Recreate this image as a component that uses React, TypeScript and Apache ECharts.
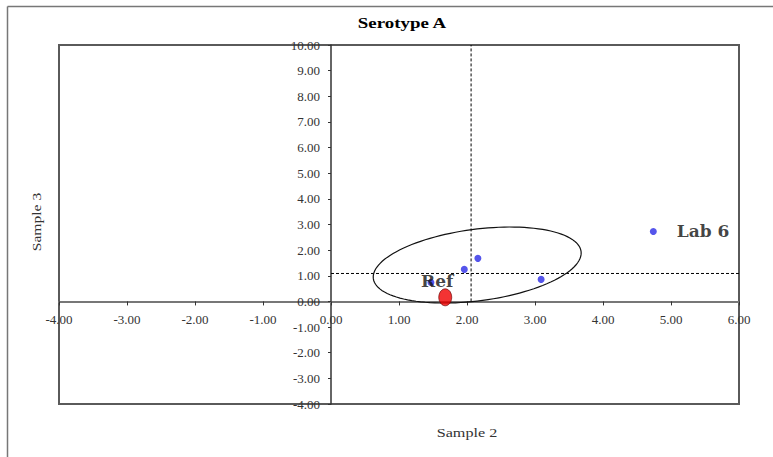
import React, { useEffect, useRef } from "react";
import * as echarts from "echarts";

const labX: number[] = [1.47, 1.96, 2.16, 3.09, 4.74];
const labY: number[] = [0.74, 1.25, 1.68, 0.86, 2.73];
const labNames: string[] = ["", "", "", "", "Lab 6"];
const refPoint: number[] = [1.68, 0.16];
const refName = "Ref";
const meanX = 2.06;
const meanY = 1.09;
// ellipse: center x, center y, conjugate vector A (x,y), conjugate vector B (x,y) in data units
const ellipseParams: number[] = [2.15, 1.42, 1.529, 0.468, 0, -1.406];
const xMin = -4, xMax = 6, yMin = -4, yMax = 10;
const titleText = "Serotype A";
const xName = "Sample 2";
const yName = "Sample 3";

const SERIF = "'Liberation Serif', 'Times New Roman', serif";
const LABEL_SERIF = "'DejaVu Serif', serif";

const W = 773, H = 457;
const GRID = { left: 59, right: 34, top: 45, bottom: 53 };

export default function App() {
  const ref = useRef<HTMLDivElement>(null);
  useEffect(() => {
    if (!ref.current) return;
    const chart = echarts.init(ref.current, null, { renderer: "svg" });
    const gridW = W - GRID.left - GRID.right;
    const gridH = H - GRID.top - GRID.bottom;
    // move axes (line + labels) to cross at zero
    const xOffset = -gridH * (0 - yMin) / (yMax - yMin);
    const yOffset = -gridW * (0 - xMin) / (xMax - xMin);
    const axisLabel = {
      fontFamily: SERIF,
      fontSize: 13,
      color: "#333",
      formatter: (v: number) => v.toFixed(2),
    };
    chart.setOption({
      animation: false,
      backgroundColor: "#fff",
      graphic: [
        {
          type: "line",
          shape: { x1: 7.5, y1: 6.5, x2: W, y2: 6.5 },
          style: { stroke: "#777", lineWidth: 1.5 },
          silent: true,
        },
        {
          type: "line",
          shape: { x1: 7.5, y1: 6.5, x2: 7.5, y2: H },
          style: { stroke: "#777", lineWidth: 1.5 },
          silent: true,
        },
        {
          type: "text",
          x: 402,
          y: 23,
          scaleX: 1.35,
          style: {
            text: titleText,
            fontFamily: SERIF,
            fontSize: 14,
            fontWeight: "bold",
            fill: "#000",
            align: "center",
            verticalAlign: "middle",
          },
        },
        {
          type: "text",
          x: 37,
          y: 222,
          rotation: Math.PI / 2,
          scaleX: 1.3,
          style: {
            text: yName,
            fontFamily: SERIF,
            fontSize: 12,
            fill: "#333",
            align: "center",
            verticalAlign: "middle",
          },
        },
        {
          type: "text",
          x: 467,
          y: 433,
          scaleX: 1.35,
          style: {
            text: xName,
            fontFamily: SERIF,
            fontSize: 12,
            fill: "#333",
            align: "center",
            verticalAlign: "middle",
          },
        },
      ],
      grid: {
        ...GRID,
        show: true,
        borderColor: "#5a5a5a",
        borderWidth: 2,
        containLabel: false,
      },
      xAxis: {
        type: "value",
        min: xMin,
        max: xMax,
        interval: 1,
        position: "bottom",
        offset: xOffset,
        axisLine: { show: true, onZero: false, lineStyle: { color: "#777", width: 2 } },
        axisTick: { show: true, length: 4, lineStyle: { color: "#333" } },
        axisLabel: { ...axisLabel, margin: 12 },
        splitLine: { show: false },
      },
      yAxis: {
        type: "value",
        min: yMin,
        max: yMax,
        interval: 1,
        position: "left",
        offset: yOffset,
        axisLine: { show: true, onZero: false, lineStyle: { color: "#333", width: 1.5 } },
        axisTick: { show: true, length: 3, lineStyle: { color: "#333" } },
        axisLabel: { ...axisLabel, margin: 11 },
        splitLine: { show: false },
      },
      series: [
        {
          type: "line",
          data: [[meanX, 0], [meanX, yMax]],
          symbol: "none",
          lineStyle: { color: "#000", width: 1, type: [3, 2] },
          z: 2,
        },
        {
          type: "line",
          data: [[0, meanY], [xMax, meanY]],
          symbol: "none",
          lineStyle: { color: "#000", width: 1, type: [3, 2] },
          z: 2,
        },
        {
          type: "custom",
          data: [ellipseParams],
          encode: { x: 0, y: 1 },
          renderItem: (_params: any, api: any) => {
            const cx = api.value(0), cy = api.value(1);
            const ax = api.value(2), ay = api.value(3);
            const bx = api.value(4), by = api.value(5);
            const pts: number[][] = [];
            const n = 120;
            for (let i = 0; i <= n; i++) {
              const t = (i / n) * Math.PI * 2;
              pts.push(
                api.coord([
                  cx + Math.cos(t) * ax + Math.sin(t) * bx,
                  cy + Math.cos(t) * ay + Math.sin(t) * by,
                ])
              );
            }
            return {
              type: "polyline",
              shape: { points: pts },
              style: { fill: "none", stroke: "#111", lineWidth: 1.2 },
            };
          },
          z: 3,
        },
        {
          type: "scatter",
          data: labX.map((x, i) => ({
            value: [x, labY[i]],
            name: labNames[i],
            label: {
              show: labNames[i] !== "",
              formatter: "{b}",
              position: "right",
              distance: 20,
              fontFamily: LABEL_SERIF,
              fontWeight: "bold",
              fontSize: 17,
              color: "#111",
            },
          })),
          symbol: "circle",
          symbolSize: 7,
          itemStyle: { color: "#2a2ae6" },
          z: 4,
        },
        {
          type: "scatter",
          data: [{ value: refPoint, name: refName }],
          symbol: "circle",
          symbolSize: [13, 17],
          itemStyle: { color: "#f00000", borderColor: "#600", borderWidth: 0.8 },
          label: {
            show: true,
            formatter: "{b}",
            position: "top",
            distance: 0,
            offset: [-8, 1],
            fontFamily: LABEL_SERIF,
            fontWeight: "bold",
            fontSize: 17,
            color: "#111",
          },
          z: 5,
        },
      ],
    });
    return () => chart.dispose();
  }, []);
  return <div ref={ref} style={{ width: W, height: H, position: "absolute", left: 0, top: 0 }} />;
}
